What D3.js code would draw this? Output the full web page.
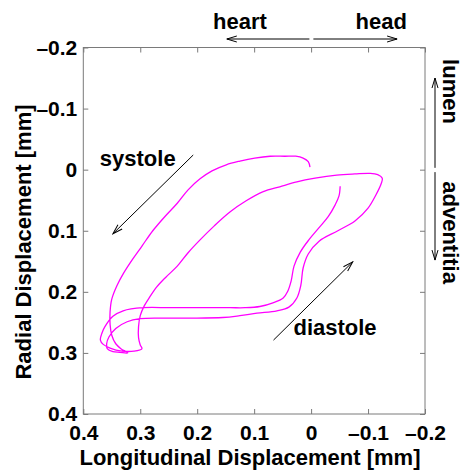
<!DOCTYPE html>
<html>
<head>
<meta charset="utf-8">
<script src="https://cdn.jsdelivr.net/npm/d3@7"></script>
<style>
  body { margin: 0; background: #fff; }
  text { font-family: "Liberation Sans", Arial, Helvetica, sans-serif; font-weight: bold; }
</style>
</head>
<body>
<div id="container"></div>
<script>
// trajectory of the wall point, two cardiac cycles (mm)
let longitudinal = [0.002, 0.005, 0.014, 0.027, 0.046, 0.072, 0.099, 0.125, 0.149, 0.174,
    0.195, 0.216, 0.235, 0.257, 0.278, 0.297, 0.313, 0.329, 0.341, 0.350,
    0.353, 0.353, 0.350, 0.343, 0.334, 0.322, 0.336, 0.348, 0.358, 0.359,
    0.355, 0.343, 0.323, 0.300, 0.265, 0.213, 0.155, 0.125, 0.095, 0.060,
    0.039, 0.025, 0.018, 0.014, 0.005, -0.014, -0.047, -0.077, -0.100, -0.114,
    -0.123, -0.125, -0.117, -0.103, -0.077, -0.045, -0.007, 0.025, 0.055, 0.084,
    0.114, 0.142, 0.170, 0.195, 0.216, 0.235, 0.255, 0.271, 0.283, 0.293,
    0.300, 0.303, 0.303, 0.300, 0.297, 0.311, 0.332, 0.353, 0.365, 0.370,
    0.367, 0.362, 0.348, 0.330, 0.295, 0.248, 0.195, 0.142, 0.116, 0.090,
    0.067, 0.049, 0.041, 0.035, 0.030, 0.019, 0.004, -0.014, -0.030, -0.042,
    -0.049, -0.051];
let radial = [-0.004, -0.013, -0.019, -0.022, -0.022, -0.022, -0.019, -0.014, -0.008, 0.002,
    0.015, 0.033, 0.055, 0.077, 0.100, 0.125, 0.146, 0.169, 0.190, 0.212,
    0.233, 0.253, 0.271, 0.285, 0.293, 0.300, 0.299, 0.298, 0.293, 0.285,
    0.274, 0.260, 0.249, 0.244, 0.243, 0.243, 0.242, 0.239, 0.235, 0.231,
    0.225, 0.210, 0.189, 0.161, 0.138, 0.117, 0.100, 0.084, 0.063, 0.041,
    0.023, 0.014, 0.008, 0.006, 0.007, 0.009, 0.014, 0.020, 0.028, 0.036,
    0.051, 0.069, 0.092, 0.115, 0.136, 0.158, 0.176, 0.192, 0.208, 0.223,
    0.239, 0.257, 0.275, 0.287, 0.293, 0.297, 0.297, 0.292, 0.286, 0.279,
    0.267, 0.257, 0.240, 0.231, 0.226, 0.226, 0.226, 0.226, 0.226, 0.224,
    0.218, 0.210, 0.199, 0.182, 0.158, 0.135, 0.115, 0.095, 0.077, 0.058,
    0.043, 0.027];

let xTicks = [0.4, 0.3, 0.2, 0.1, 0, -0.1, -0.2];
let yTicks = [-0.2, -0.1, 0, 0.1, 0.2, 0.3, 0.4];

let points = longitudinal.map((d, i) => [d, radial[i]]);
let fmt = d => d < 0 ? "\u2013" + Math.abs(d) : String(d);

let width = 465, height = 476;
let svg = d3.select('#container')
    .append('svg')
    .attr('width', width)
    .attr('height', height);

let x = d3.scaleLinear().domain([0.4, -0.2]).range([83.3, 425]);
let y = d3.scaleLinear().domain([-0.2, 0.4]).range([47.5, 414]);

svg.append('defs').append('marker')
    .attr('id', 'arrowhead')
    .attr('markerUnits', 'userSpaceOnUse')
    .attr('viewBox', '-11 -5 12 10')
    .attr('refX', 0).attr('refY', 0)
    .attr('markerWidth', 12).attr('markerHeight', 10)
    .attr('orient', 'auto')
    .append('path')
    .attr('d', 'M-10,-3L0,0L-10,3')
    .attr('fill', 'none')
    .attr('stroke', '#000')
    .attr('stroke-width', 1);

let gray = '#7a7a7a';

// ticks inside the box on all four sides
let axBottom = svg.append('g').attr('transform', `translate(0,${y(0.4)})`)
    .call(d3.axisBottom(x).tickValues(xTicks).tickSize(-5).tickPadding(11).tickFormat(fmt));
let axTop = svg.append('g').attr('transform', `translate(0,${y(-0.2)})`)
    .call(d3.axisTop(x).tickValues(xTicks).tickSize(-5).tickFormat(''));
let axLeft = svg.append('g').attr('transform', `translate(${x(0.4)},0)`)
    .call(d3.axisLeft(y).tickValues(yTicks).tickSize(-5).tickPadding(6).tickFormat(fmt));
let axRight = svg.append('g').attr('transform', `translate(${x(-0.2)},0)`)
    .call(d3.axisRight(y).tickValues(yTicks).tickSize(-5).tickFormat(''));

[axBottom, axTop, axLeft, axRight].forEach(g => {
    g.select('.domain').remove();
    g.selectAll('line').attr('stroke', gray);
    g.selectAll('text').attr('fill', '#000').style('font-size', '21px');
});

svg.append('rect')
    .attr('x', x(0.4)).attr('y', y(-0.2))
    .attr('width', x(-0.2) - x(0.4))
    .attr('height', y(0.4) - y(-0.2))
    .attr('fill', 'none')
    .attr('stroke', gray)
    .attr('stroke-width', 1);

svg.append('path')
    .datum(points)
    .attr('d', d3.line().x(d => x(d[0])).y(d => y(d[1])).curve(d3.curveCatmullRom.alpha(0.5)))
    .attr('fill', 'none')
    .attr('stroke', '#ff00ff')
    .attr('stroke-width', 1.3);

// axis titles
svg.append('text')
    .attr('x', 250).attr('y', 465)
    .attr('text-anchor', 'middle')
    .style('font-size', '22px')
    .text('Longitudinal Displacement [mm]');

svg.append('text')
    .attr('transform', 'translate(31,242) rotate(-90)')
    .attr('text-anchor', 'middle')
    .style('font-size', '22px')
    .text('Radial Displacement [mm]');

// systole / diastole arrows
function arrow(x1, y1, x2, y2) {
    svg.append('line')
        .attr('x1', x1).attr('y1', y1)
        .attr('x2', x2).attr('y2', y2)
        .attr('stroke', '#000')
        .attr('stroke-width', 1)
        .attr('marker-end', 'url(#arrowhead)');
}

arrow(x(0.207), y(-0.024), x(0.348), y(0.105));
arrow(x(0.066), y(0.279), x(-0.073), y(0.151));

svg.append('text').attr('x', x(0.371)).attr('y', y(-0.006))
    .style('font-size', '22px').text('systole');
svg.append('text').attr('x', x(0.031)).attr('y', y(0.271))
    .style('font-size', '22px').text('diastole');

// direction labels outside the box
let topY = y(-0.2) - 8.5;
arrow(x(0.003), topY, x(0.148), topY);
arrow(x(-0.004), topY, x(-0.151), topY);
svg.append('text').attr('x', x(0.125)).attr('y', 29)
    .attr('text-anchor', 'middle').style('font-size', '22px').text('heart');
svg.append('text').attr('x', x(-0.123)).attr('y', 29)
    .attr('text-anchor', 'middle').style('font-size', '22px').text('head');

let sideX = x(-0.2) + 10;
arrow(sideX, y(-0.003), sideX, y(-0.150));
arrow(sideX, y(0.004), sideX, y(0.148));
svg.append('text')
    .attr('transform', `translate(443,${y(-0.128)}) rotate(90)`)
    .attr('text-anchor', 'middle').style('font-size', '22px').text('lumen');
svg.append('text')
    .attr('transform', `translate(443,${y(0.103)}) rotate(90)`)
    .attr('text-anchor', 'middle').style('font-size', '22px').text('adventitia');
</script>
</body>
</html>
